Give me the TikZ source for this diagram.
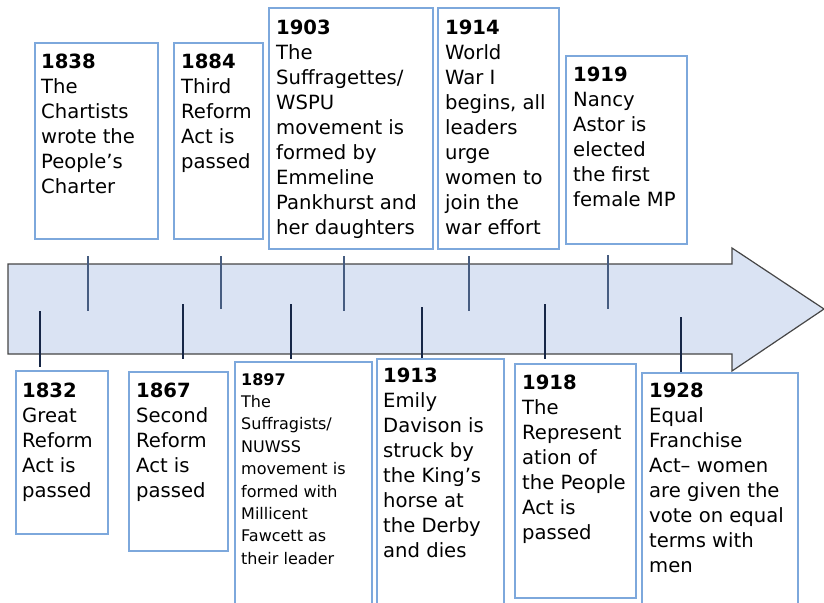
\documentclass[tikz,border=0pt]{standalone}
\usepackage{fontspec}
\setmainfont{DejaVu Sans}
\definecolor{boxblue}{RGB}{125,168,220}
\definecolor{arrowfill}{RGB}{218,227,243}
\definecolor{arrowline}{RGB}{70,70,70}
\definecolor{tickupc}{RGB}{70,92,128}
\definecolor{tickdnc}{RGB}{22,38,70}
\tikzset{
  evbox/.style={draw=boxblue, line width=1.1pt, fill=white, rectangle, anchor=north west, inner sep=0pt, outer sep=0pt},
  evtext/.style={anchor=north west, inner sep=0pt, align=left, font=\fontsize{19.6}{25}\selectfont, text=black},
  evsmall/.style={evtext, font=\fontsize{16}{22.4}\selectfont},
  tickup/.style={draw=tickupc, line width=1.2pt},
  tickdn/.style={draw=tickdnc, line width=1.2pt},
  timearrow/.style={draw=arrowline, fill=arrowfill, line width=1.2pt, line join=miter}
}
\begin{document}
\begin{tikzpicture}[x=1pt,y=-1pt]
\useasboundingbox (0,0) rectangle (824,602);
\clip (0,0) rectangle (824,602);
\fill[white] (0,0) rectangle (824,602);
% arrow
\draw[timearrow] (8,264) -- (732,264) -- (732,248) -- (824,309) -- (732,371) -- (732,354) -- (8,354) -- cycle;
% tick coordinates
\coordinate (k1832a) at (40,311);  \coordinate (k1832b) at (40,367);
\coordinate (k1838a) at (88,256);  \coordinate (k1838b) at (88,311);
\coordinate (k1867a) at (183,304); \coordinate (k1867b) at (183,359);
\coordinate (k1884a) at (221,256); \coordinate (k1884b) at (221,309);
\coordinate (k1897a) at (291,304); \coordinate (k1897b) at (291,359);
\coordinate (k1903a) at (344,256); \coordinate (k1903b) at (344,311);
\coordinate (k1913a) at (422,307); \coordinate (k1913b) at (422,362);
\coordinate (k1914a) at (469,256); \coordinate (k1914b) at (469,311);
\coordinate (k1918a) at (545,304); \coordinate (k1918b) at (545,359);
\coordinate (k1919a) at (608,255); \coordinate (k1919b) at (608,309);
\coordinate (k1928a) at (681,317); \coordinate (k1928b) at (681,372);
\draw[tickdn] (k1832a) -- (k1832b);
\draw[tickup] (k1838a) -- (k1838b);
\draw[tickdn] (k1867a) -- (k1867b);
\draw[tickup] (k1884a) -- (k1884b);
\draw[tickdn] (k1897a) -- (k1897b);
\draw[tickup] (k1903a) -- (k1903b);
\draw[tickdn] (k1913a) -- (k1913b);
\draw[tickup] (k1914a) -- (k1914b);
\draw[tickdn] (k1918a) -- (k1918b);
\draw[tickup] (k1919a) -- (k1919b);
\draw[tickdn] (k1928a) -- (k1928b);
% top boxes
\node[evbox, minimum width=123pt, minimum height=196pt] (b1838) at (35,43) {};
\node[evbox, minimum width=89pt, minimum height=196pt] (b1884) at (174,43) {};
\node[evbox, minimum width=164pt, minimum height=241pt] (b1903) at (269,8) {};
\node[evbox, minimum width=121pt, minimum height=241pt] (b1914) at (438,8) {};
\node[evbox, minimum width=121pt, minimum height=188pt] (b1919) at (566,56) {};
% bottom boxes
\node[evbox, minimum width=92pt, minimum height=163pt] (b1832) at (16,371) {};
\node[evbox, minimum width=99pt, minimum height=179pt] (b1867) at (129,372) {};
\node[evbox, minimum width=137pt, minimum height=260pt] (b1897) at (235,362) {};
\node[evbox, minimum width=127pt, minimum height=260pt] (b1913) at (377,359) {};
\node[evbox, minimum width=121pt, minimum height=234pt] (b1918) at (515,364) {};
\node[evbox, minimum width=156pt, minimum height=260pt] (b1928) at (642,373) {};
% texts
\node[evtext] (t1838) at (41,54) {\textbf{1838}\\The\\Chartists\\wrote the\\People’s\\Charter};
\node[evtext] (t1884) at (181,54) {\textbf{1884}\\Third\\Reform\\Act is\\passed};
\node[evtext] (t1903) at (276,20) {\textbf{1903}\\The\\Suffragettes/\\WSPU\\movement is\\formed by\\Emmeline\\Pankhurst and\\her daughters};
\node[evtext] (t1914) at (445,20) {\textbf{1914}\\World\\War I\\begins, all\\leaders\\urge\\women to\\join the\\war effort};
\node[evtext] (t1919) at (573,67) {\textbf{1919}\\Nancy\\Astor is\\elected\\the first\\female MP};
\node[evtext] (t1832) at (22,383) {\textbf{1832}\\Great\\Reform\\Act is\\passed};
\node[evtext] (t1867) at (136,383) {\textbf{1867}\\Second\\Reform\\Act is\\passed};
\node[evsmall] (t1897) at (241,373) {\textbf{1897}\\The\\Suffragists/\\NUWSS\\movement is\\formed with\\Millicent\\Fawcett as\\their leader};
\node[evtext] (t1913) at (383,368) {\textbf{1913}\\Emily\\Davison is\\struck by\\the King’s\\horse at\\the Derby\\and dies};
\node[evtext] (t1918) at (522,375) {\textbf{1918}\\The\\Represent\\ation of\\the People\\Act is\\passed};
\node[evtext] (t1928) at (649,383) {\textbf{1928}\\Equal\\Franchise\\Act– women\\are given the\\vote on equal\\terms with\\men};
\end{tikzpicture}
\end{document}
